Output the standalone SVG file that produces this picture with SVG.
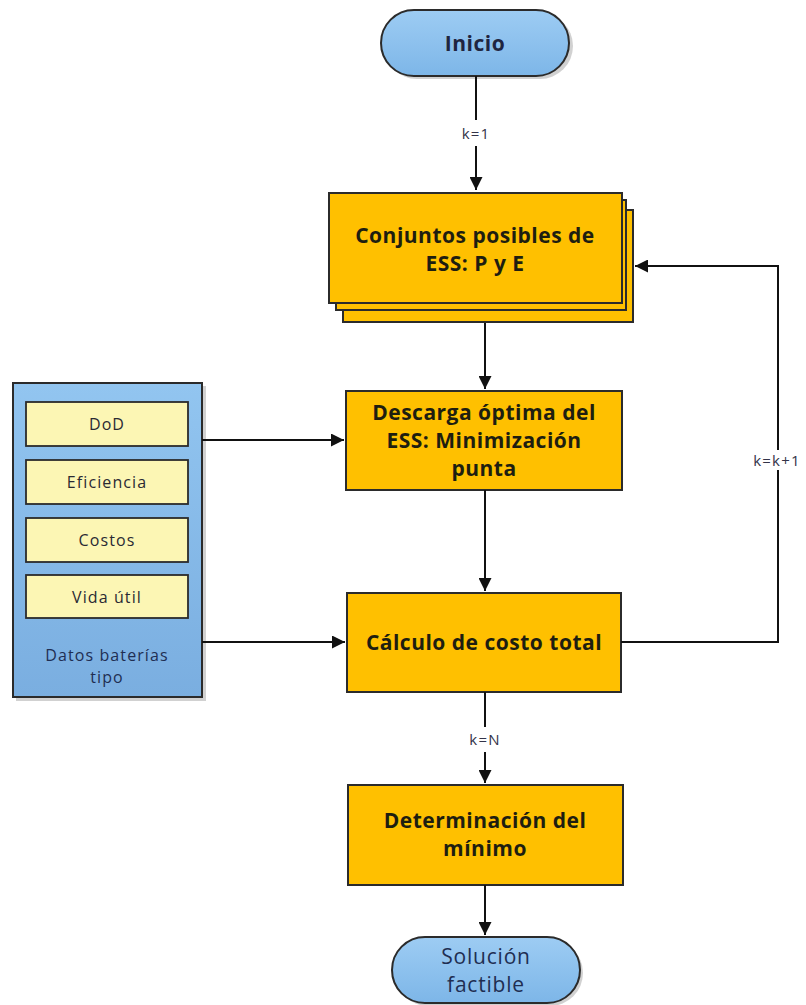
<svg xmlns="http://www.w3.org/2000/svg" width="806" height="1005" viewBox="0 0 806 1005">
<defs>
<linearGradient id="gBlue" x1="0" y1="0" x2="0" y2="1">
<stop offset="0" stop-color="#9dccf3"/><stop offset="1" stop-color="#7db6e8"/>
</linearGradient>
<linearGradient id="gPanel" x1="0" y1="0" x2="0" y2="1">
<stop offset="0" stop-color="#92c5f0"/><stop offset="1" stop-color="#7aaee0"/>
</linearGradient>
<marker id="arrB" viewBox="0 0 12 12" refX="12" refY="6" markerWidth="13" markerHeight="13" markerUnits="userSpaceOnUse" orient="auto">
<path d="M0,0 L12,6 L0,12 z" fill="#111"/>
</marker>
</defs>
<style>
.proc{fill:#ffc000;stroke:#2b2b2b;stroke-width:2}
.shadow{fill:#9a9a9a;opacity:0.45}
.term{fill:url(#gBlue);stroke:#2b2b2b;stroke-width:2}
.item{fill:#fcf6b4;stroke:#2b2b2b;stroke-width:1.8}
.pt{font-family:"Open Sans","Noto Sans","Liberation Sans",sans-serif;font-weight:bold;font-size:21px;letter-spacing:0.5px;fill:#1e1e10;text-anchor:middle}
.tt{font-family:"Open Sans","Noto Sans","Liberation Sans",sans-serif;font-size:21px;letter-spacing:0.8px;fill:#1f2e52;text-anchor:middle}
.it{font-family:"Open Sans","Noto Sans","Liberation Sans",sans-serif;font-size:16px;letter-spacing:1.1px;fill:#2a2a33;text-anchor:middle}
.lbl{font-family:"Open Sans","Noto Sans","Liberation Sans",sans-serif;font-size:15px;letter-spacing:1.2px;fill:#333348;text-anchor:middle}
.ln{fill:none;stroke:#111;stroke-width:2}
</style>

<g id="inicio">
<rect class="shadow" x="384" y="13" width="189" height="66" rx="33"/>
<rect class="term" x="381" y="10" width="188" height="66" rx="33"/>
<text class="pt" x="475" y="51" style="fill:#1f2540">Inicio</text>
</g>

<g id="conjuntos">
<rect class="proc" x="343" y="210" width="290" height="112"/>
<rect class="proc" x="336" y="200" width="290" height="110"/>
<rect class="proc" x="329" y="193" width="293" height="110"/>
<text class="pt" x="475" y="243">Conjuntos posibles de</text>
<text class="pt" x="475" y="271">ESS: P y E</text>
</g>

<g id="datos">
<rect class="shadow" x="16" y="386" width="190" height="315"/>
<rect x="13" y="383" width="189" height="314" fill="url(#gPanel)" stroke="#2b2b2b" stroke-width="2"/>
<g id="dod"><rect class="item" x="26" y="402" width="162" height="44"/><text class="it" x="107" y="430">DoD</text></g>
<g id="eficiencia"><rect class="item" x="26" y="460" width="162" height="44"/><text class="it" x="107" y="488">Eficiencia</text></g>
<g id="costos"><rect class="item" x="26" y="518" width="162" height="44"/><text class="it" x="107" y="546">Costos</text></g>
<g id="vida"><rect class="item" x="26" y="575" width="162" height="43"/><text class="it" x="107" y="603">Vida útil</text></g>
<text class="it" x="107" y="661" style="fill:#1f2e52">Datos baterías</text>
<text class="it" x="107" y="683" style="fill:#1f2e52">tipo</text>
</g>

<g id="descarga">
<rect class="proc" x="346" y="391" width="276" height="99"/>
<text class="pt" x="484" y="420">Descarga óptima del</text>
<text class="pt" x="484" y="448">ESS: Minimización</text>
<text class="pt" x="484" y="476">punta</text>
</g>

<g id="calculo">
<rect class="proc" x="347" y="593" width="274" height="99"/>
<text class="pt" x="484" y="650">Cálculo de costo total</text>
</g>

<g id="determinacion">
<rect class="proc" x="348" y="785" width="275" height="100"/>
<text class="pt" x="485" y="828">Determinación del</text>
<text class="pt" x="485" y="856">mínimo</text>
</g>

<g id="solucion">
<rect class="shadow" x="395" y="940" width="188" height="66" rx="33"/>
<rect class="term" x="392" y="937" width="188" height="66" rx="33"/>
<text class="tt" x="486" y="964">Solución</text>
<text class="tt" x="486" y="992">factible</text>
</g>

<g id="connectors">
<path class="ln" d="M476,76 V120"/>
<path class="ln" d="M476,146 V190" marker-end="url(#arrB)"/>
<text class="lbl" x="476" y="139">k=1</text>
<path class="ln" d="M485,323 V389" marker-end="url(#arrB)"/>
<path class="ln" d="M485,490 V591" marker-end="url(#arrB)"/>
<path class="ln" d="M202,440 H344" marker-end="url(#arrB)"/>
<path class="ln" d="M202,642 H345" marker-end="url(#arrB)"/>
<path class="ln" d="M621,642 H778 V266 H635" marker-end="url(#arrB)"/>
<rect x="746" y="450" width="60" height="20" fill="#fff"/>
<text class="lbl" x="777" y="466">k=k+1</text>
<path class="ln" d="M485,692 V727"/>
<path class="ln" d="M485,752 V783" marker-end="url(#arrB)"/>
<text class="lbl" x="485" y="745">k=N</text>
<path class="ln" d="M485,885 V935" marker-end="url(#arrB)"/>
</g>
</svg>
